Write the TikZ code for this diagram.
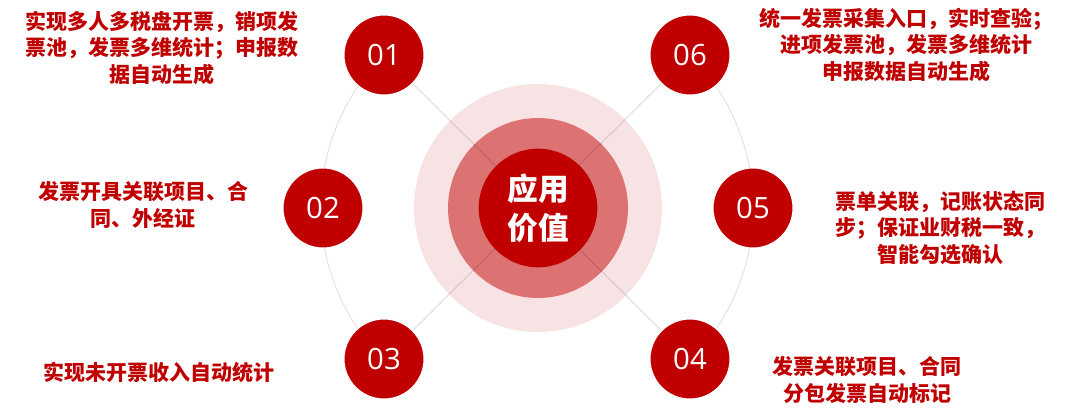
\documentclass[tikz,border=0pt]{standalone}
\usepackage{fontspec}
\newfontfamily\cjk{Noto Sans CJK SC}
\newfontfamily\numfont{Open Sans}
\definecolor{mainred}{HTML}{C00000}
\definecolor{midred}{HTML}{DC7272}
\definecolor{palered}{HTML}{F8E3E4}

\begin{document}
\begin{tikzpicture}[x=0.75pt,y=-0.75pt,
		num/.style={circle, fill=mainred, draw=white, line width=0.8pt, minimum size=60pt, inner sep=0pt, text=white, font=\numfont\fontsize{22}{22}\selectfont},
		desc/.style={text=mainred, align=center, font=\cjk\bfseries\fontsize{15.75}{20}\selectfont}]
	\fill[white] (0,0) rectangle (1080,418);
	\clip (0,0) rectangle (1080,418);
	\coordinate (c) at (538,208);
	\fill[palered] (c) circle[radius=124];
	\fill[midred] (c) circle[radius=90];
	\foreach \n/\x/\y in {01/384/55, 02/323/208, 03/384/359, 04/690/359, 05/753/208, 06/690/55}
		\coordinate (p\n) at (\x,\y);
	% side arcs
	\draw[black!13, line width=0.6pt] (p01) arc[start angle=225, end angle=135, radius=216];
	\draw[black!13, line width=0.6pt] (p06) arc[start angle=-45, end angle=45, radius=216];
	\foreach \n in {01,02,03,04,05,06}
		\node[num] (n\n) at (p\n) {\n};
	\draw[black, opacity=0.12, line width=0.8pt] (n01) -- (n04);
	\draw[black, opacity=0.12, line width=0.8pt] (n06) -- (n03);
	\node[circle, fill=mainred, minimum size=89pt, inner sep=0pt, text=white, align=center,
		font=\cjk\bfseries\fontsize{23}{29}\selectfont] (core) at (c) {应用\\价值};
	% descriptions
	\node[desc] (t01) at (162,48) {实现多人多税盘开票，销项发\\票池，发票多维统计；申报数\\据自动生成};
	\node[desc] (t02) at (143,205) {发票开具关联项目、合\\同、外经证};
	\node[desc] (t03) at (159,372) {实现未开票收入自动统计};
	\node[desc] (t04) at (867,380) {发票关联项目、合同\\分包发票自动标记};
	\node[desc] (t05) at (940,228) {票单关联，记账状态同\\步；保证业财税一致，\\智能勾选确认};
	\node[desc] (t06) at (906,45) {统一发票采集入口，实时查验；\\进项发票池，发票多维统计\\申报数据自动生成};
\end{tikzpicture}
\end{document}
